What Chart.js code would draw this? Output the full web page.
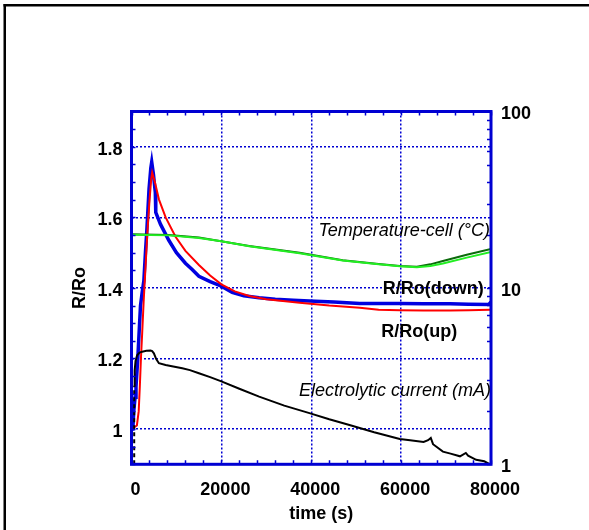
<!DOCTYPE html>
<html><head><meta charset="utf-8">
<script src="https://cdn.jsdelivr.net/npm/chart.js@4/dist/chart.umd.min.js"></script>
<style>html,body{margin:0;padding:0;background:#fff;} #wrap{width:589px;height:530px;}</style>
</head><body><div id="wrap"><canvas id="c" width="589" height="530"></canvas></div>
<script>
// ---- data ----
const xTicks = [0, 20000, 40000, 60000, 80000];
const leftTicks = [1, 1.2, 1.4, 1.6, 1.8];
const rightTicks = [1, 10, 100];

const downTime  = [0, 300, 500, 800, 1000, 1400, 2000, 2400, 2750, 3100, 3400, 3900, 4300, 4500, 4900, 5300, 5400, 6470, 8300, 10000, 12000, 13500, 15000, 17500, 20000, 22400, 25000, 28400, 32000, 36000, 39600, 45000, 50800, 55000, 59700, 65000, 70900, 75000, 79500, 80000];
const downRatio = [1.0, 1.0, 1.05, 1.09, 1.12, 1.2, 1.35, 1.39, 1.42, 1.5, 1.56, 1.68, 1.74, 1.757, 1.72, 1.67, 1.614, 1.58, 1.535, 1.5, 1.47, 1.452, 1.433, 1.418, 1.405, 1.387, 1.378, 1.372, 1.368, 1.365, 1.363, 1.36, 1.356, 1.356, 1.356, 1.355, 1.355, 1.354, 1.353, 1.36];

const upTime  = [0, 1200, 1600, 1850, 2100, 2370, 2700, 3125, 3500, 4020, 4400, 4600, 5200, 6100, 7600, 9800, 12000, 15000, 17500, 20000, 23000, 26200, 30000, 37400, 44000, 50800, 55000, 59700, 65000, 70900, 75000, 79800];
const upRatio = [1.0, 1.01, 1.05, 1.12, 1.2, 1.27, 1.36, 1.46, 1.55, 1.65, 1.71, 1.727, 1.70, 1.651, 1.6, 1.545, 1.505, 1.465, 1.435, 1.41, 1.39, 1.377, 1.368, 1.358, 1.35, 1.344, 1.338, 1.337, 1.336, 1.336, 1.337, 1.338];

const tempTime  = [0, 8300, 15000, 20000, 26200, 37400, 47000, 55000, 59700, 63500, 66500, 69300, 74600, 80000];
const tempValue = [20.0, 19.85, 19.2, 18.4, 17.2, 15.7, 14.3, 13.6, 13.25, 13.1, 13.3, 13.75, 14.85, 16.0];

const temp2Time  = [0, 8300, 15000, 26200, 37400, 47000, 55000, 59700, 63500, 66500, 69300, 74600, 80000];
const temp2Value = [20.15, 19.95, 19.3, 17.3, 15.8, 14.35, 13.65, 13.3, 13.2, 13.6, 14.2, 15.4, 16.6];

const currTime  = [600, 600, 700, 900, 1250, 1800, 2370, 3300, 4240, 4600, 4980, 5500, 6100, 7590, 9000, 11300, 13000, 15000, 17500, 20000, 24000, 28400, 34000, 39600, 44000, 48500, 54000, 59700, 62000, 65000, 66000, 66600, 67100, 69300, 71000, 73100, 74400, 74900, 76700, 78500, 79800];
const currValue = [1.0, 2.8, 3.4, 3.85, 4.15, 4.3, 4.35, 4.4, 4.41, 4.38, 4.26, 3.95, 3.74, 3.66, 3.6, 3.5, 3.42, 3.28, 3.12, 2.95, 2.68, 2.42, 2.15, 1.95, 1.8, 1.67, 1.52, 1.39, 1.37, 1.34, 1.37, 1.41, 1.30, 1.18, 1.15, 1.11, 1.16, 1.12, 1.06, 1.04, 1.0];

const seriesLabels = ['R/Ro(down)', 'R/Ro(up)', 'Temperature-cell (°C)', 'Electrolytic current (mA)'];

// ---- presentation ----
const FONT = "'Liberation Sans', Arial, sans-serif";
const BLUE = '#0000d2';
const zip = (xs, ys) => xs.map((x, i) => ({x, y: ys[i]}));

// annotation anchors in data units (x, left-axis y)
const notes = [
  {text: seriesLabels[2], x: 80000, y: 1.547, align: 'right', style: 'italic', dx: -1},
  {text: seriesLabels[0], x: 78400, y: 1.382, align: 'right', style: 'bold', dx: 0},
  {text: seriesLabels[1], x: 55580, y: 1.262, align: 'left', style: 'bold', dx: 0},
  {text: seriesLabels[3], x: 80000, y: 1.093, align: 'right', style: 'italic', dx: 0}
];

const deco = {
  id: 'deco',
  afterDraw(chart) {
    const ctx = chart.ctx, a = chart.chartArea;
    const xs = chart.scales.x, yl = chart.scales.y, yr = chart.scales.y2;
    ctx.save();
    // minor ticks
    ctx.strokeStyle = BLUE; ctx.lineWidth = 1.5; ctx.setLineDash([]);
    ctx.beginPath();
    for (let v = 0.9; v <= 1.9001; v += 0.05) {
      const y = Math.round(yl.getPixelForValue(v)) + 0.5;
      ctx.moveTo(a.left, y); ctx.lineTo(a.left + 4, y);
    }
    for (let d = 1; d < 100; d *= 10) {
      for (let k = 1; k <= 9; k++) {
        const y = Math.round(yr.getPixelForValue(k * d)) + 0.5;
        ctx.moveTo(a.right, y); ctx.lineTo(a.right - 4, y);
      }
    }
    for (let t = 0; t <= 80000; t += 4000) {
      const x = Math.round(xs.getPixelForValue(t)) + 0.5;
      ctx.moveTo(x, a.bottom); ctx.lineTo(x, a.bottom - 4);
      ctx.moveTo(x, a.top); ctx.lineTo(x, a.top + 4);
    }
    ctx.stroke();
    // plot box
    ctx.lineWidth = 3;
    ctx.strokeRect(a.left, a.top, a.right - a.left, a.bottom - a.top);
    // annotations
    ctx.fillStyle = '#000';
    ctx.textBaseline = 'alphabetic';
    notes.forEach(n => {
      ctx.font = (n.style === 'bold' ? 'bold ' : 'italic ') + '18px ' + FONT;
      ctx.textAlign = n.align;
      ctx.fillText(n.text, xs.getPixelForValue(n.x) + n.dx, yl.getPixelForValue(n.y));
    });
    // axis titles
    ctx.font = 'bold 18px ' + FONT;
    ctx.textAlign = 'center';
    ctx.fillText('time (s)', (a.left + a.right) / 2 + 10, 519);
    ctx.save();
    ctx.translate(85, (a.top + a.bottom) / 2);
    ctx.rotate(-Math.PI / 2);
    ctx.fillText('R/Ro', 0, 0);
    ctx.restore();
    // outer frame
    ctx.fillStyle = '#000';
    ctx.fillRect(3.5, 4, chart.width, 2.5);
    ctx.fillRect(3.5, 4, 2.5, chart.height);
    ctx.restore();
  }
};

const tickFont = {family: FONT, size: 18, weight: 'bold'};

new Chart(document.getElementById('c'), {
  type: 'line',
  data: {
    datasets: [
      {label: seriesLabels[3], data: zip(currTime, currValue), yAxisID: 'y2', borderColor: '#000', borderWidth: 2,
       segment: {borderDash: c => c.p0DataIndex === 0 ? [4, 3] : undefined}},
      {label: seriesLabels[2], data: zip(tempTime, tempValue), yAxisID: 'y2', borderColor: '#22ee22', borderWidth: 2},
      {label: 'Temperature 2', data: zip(temp2Time, temp2Value), yAxisID: 'y2', borderColor: '#0b6b0b', borderWidth: 2},
      {label: seriesLabels[1], data: zip(upTime, upRatio), yAxisID: 'y', borderColor: '#ff0000', borderWidth: 2},
      {label: seriesLabels[0], data: zip(downTime, downRatio), yAxisID: 'y', borderColor: '#0000e0', borderWidth: 3.5}
    ]
  },
  options: {
    responsive: false,
    devicePixelRatio: 1,
    animation: false,
    parsing: false,
    elements: {point: {radius: 0}, line: {tension: 0, fill: false}},
    layout: {padding: {top: 111.5, left: 0, right: 0, bottom: 0}},
    plugins: {legend: {display: false}, tooltip: {enabled: false}},
    scales: {
      x: {
        type: 'linear', min: 0, max: 80000, position: 'bottom',
        afterBuildTicks: s => { s.ticks = xTicks.map(v => ({value: v})); },
        afterFit: s => { s.height = 65.7; },
        ticks: {font: tickFont, color: '#000', padding: 15, labelOffset: 4, maxRotation: 0, autoSkip: false, callback: v => String(v)},
        grid: {color: BLUE, lineWidth: 1.5, drawTicks: false},
        border: {display: false, dash: [2, 2]}
      },
      y: {
        type: 'linear', min: 0.9, max: 1.9, position: 'left',
        afterBuildTicks: s => { s.ticks = leftTicks.map(v => ({value: v})); },
        afterFit: s => { s.width = 131.5; },
        ticks: {font: tickFont, color: '#000', padding: 9, labelOffset: 3, autoSkip: false, callback: v => String(v)},
        grid: {color: BLUE, lineWidth: 1.5, drawTicks: false},
        border: {display: false, dash: [2, 2]}
      },
      y2: {
        type: 'logarithmic', min: 1, max: 100, position: 'right',
        afterBuildTicks: s => { s.ticks = rightTicks.map(v => ({value: v})); },
        afterFit: s => { s.width = 98; },
        ticks: {font: tickFont, color: '#000', padding: 10, labelOffset: 3, autoSkip: false, callback: v => String(v)},
        grid: {display: false, drawOnChartArea: false, drawTicks: false},
        border: {display: false}
      }
    }
  },
  plugins: [deco]
});
</script>
</body></html>
